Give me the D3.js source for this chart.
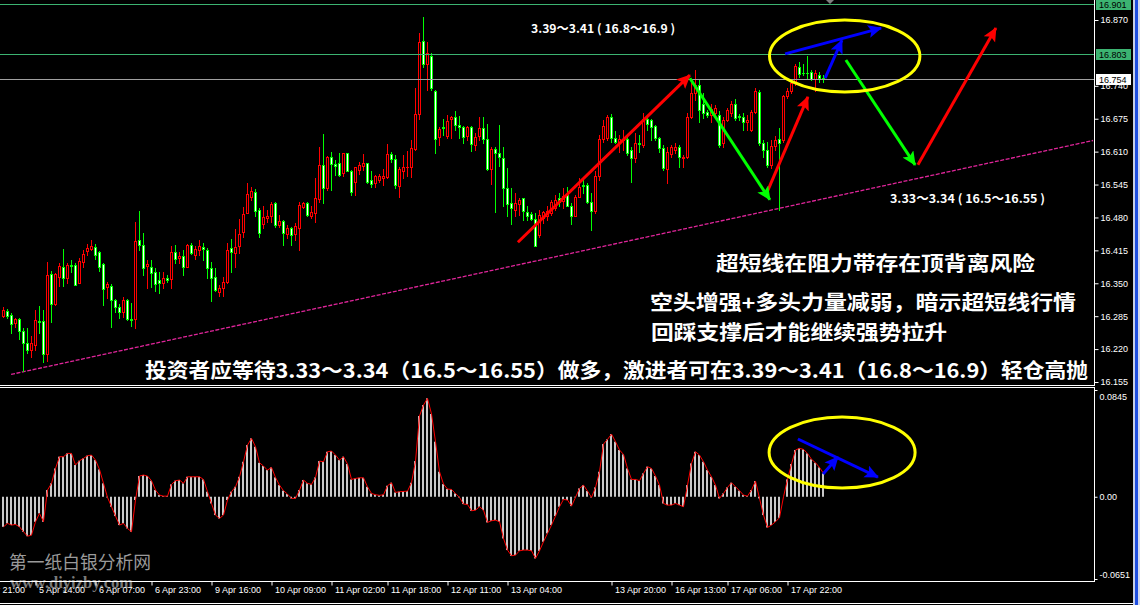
<!DOCTYPE html>
<html><head><meta charset="utf-8">
<script src="https://cdn.jsdelivr.net/npm/d3@7"></script>
<style>body{margin:0;background:#000;overflow:hidden}</style>
</head><body>
<svg id="c" width="1140" height="605"></svg>
<script>
// ---- DATA ----
// hourly candles [open, high, low, close]
const ohlc = [
[16.286,16.303,16.283,16.298],[16.296,16.299,16.282,16.286],[16.288,16.291,16.251,16.269],[16.271,16.282,16.263,16.280],
[16.280,16.282,16.240,16.255],[16.256,16.261,16.176,16.233],[16.233,16.261,16.212,16.219],[16.219,16.246,16.205,16.233],
[16.228,16.298,16.219,16.278],[16.276,16.305,16.251,16.273],[16.276,16.298,16.194,16.210],[16.210,16.393,16.196,16.367],
[16.369,16.375,16.273,16.309],[16.309,16.370,16.307,16.369],[16.362,16.390,16.344,16.384],[16.382,16.418,16.344,16.361],
[16.361,16.390,16.351,16.386],[16.386,16.396,16.373,16.385],[16.386,16.390,16.346,16.346],[16.350,16.400,16.350,16.394],
[16.393,16.416,16.383,16.407],[16.413,16.427,16.406,16.419],[16.417,16.436,16.416,16.424],[16.421,16.428,16.398,16.405],
[16.411,16.414,16.375,16.383],[16.388,16.390,16.307,16.338],[16.342,16.353,16.321,16.348],[16.345,16.348,16.263,16.317],
[16.317,16.319,16.294,16.304],[16.304,16.309,16.281,16.294],[16.294,16.322,16.284,16.317],[16.317,16.319,16.278,16.280],
[16.280,16.311,16.265,16.278],[16.279,16.472,16.261,16.434],[16.436,16.493,16.416,16.425],[16.426,16.450,16.367,16.380],
[16.385,16.396,16.340,16.388],[16.382,16.395,16.342,16.371],[16.372,16.380,16.334,16.349],[16.357,16.373,16.330,16.351],
[16.351,16.372,16.340,16.361],[16.361,16.367,16.353,16.357],[16.358,16.423,16.340,16.411],[16.411,16.425,16.391,16.398],
[16.399,16.411,16.390,16.404],[16.404,16.415,16.367,16.383],[16.383,16.427,16.382,16.425],[16.425,16.430,16.407,16.409],
[16.406,16.424,16.398,16.417],[16.415,16.436,16.406,16.424],[16.421,16.429,16.396,16.417],[16.416,16.419,16.360,16.380],
[16.380,16.393,16.314,16.360],[16.362,16.380,16.334,16.336],[16.332,16.347,16.324,16.340],[16.340,16.363,16.324,16.353],
[16.353,16.429,16.350,16.416],[16.419,16.437,16.373,16.411],[16.409,16.457,16.383,16.421],[16.423,16.477,16.409,16.447],
[16.452,16.500,16.441,16.487],[16.488,16.548,16.488,16.527],[16.520,16.541,16.515,16.532],[16.531,16.536,16.482,16.492],
[16.494,16.498,16.442,16.449],[16.467,16.502,16.459,16.481],[16.478,16.494,16.472,16.483],[16.482,16.510,16.472,16.507],
[16.508,16.511,16.462,16.465],[16.466,16.484,16.462,16.473],[16.473,16.475,16.426,16.449],[16.447,16.465,16.439,16.459],
[16.459,16.462,16.426,16.446],[16.447,16.469,16.436,16.463],[16.459,16.511,16.416,16.505],[16.501,16.511,16.498,16.509],
[16.509,16.511,16.482,16.484],[16.483,16.502,16.479,16.490],[16.488,16.557,16.472,16.519],[16.517,16.620,16.511,16.584],
[16.584,16.644,16.509,16.539],[16.538,16.602,16.534,16.599],[16.599,16.610,16.534,16.585],[16.586,16.594,16.564,16.582],
[16.587,16.607,16.561,16.564],[16.567,16.608,16.562,16.607],[16.607,16.608,16.571,16.572],[16.572,16.574,16.525,16.531],
[16.551,16.580,16.525,16.579],[16.573,16.590,16.566,16.584],[16.582,16.605,16.574,16.587],[16.587,16.588,16.549,16.551],
[16.553,16.571,16.541,16.547],[16.549,16.564,16.540,16.562],[16.554,16.566,16.551,16.562],[16.557,16.575,16.544,16.561],
[16.559,16.625,16.557,16.605],[16.605,16.610,16.590,16.595],[16.595,16.603,16.538,16.544],[16.543,16.580,16.521,16.576],
[16.572,16.603,16.557,16.579],[16.579,16.611,16.561,16.580],[16.579,16.633,16.559,16.617],[16.615,16.735,16.613,16.684],
[16.684,16.844,16.674,16.827],[16.829,16.875,16.778,16.784],[16.784,16.827,16.731,16.804],[16.799,16.804,16.732,16.735],
[16.729,16.732,16.607,16.634],[16.638,16.659,16.623,16.654],[16.659,16.674,16.643,16.657],[16.640,16.682,16.636,16.671],
[16.674,16.680,16.636,16.679],[16.679,16.690,16.653,16.663],[16.663,16.681,16.636,16.659],[16.659,16.661,16.627,16.638],
[16.640,16.661,16.633,16.658],[16.659,16.661,16.612,16.625],[16.623,16.646,16.613,16.638],[16.640,16.678,16.633,16.656],
[16.656,16.679,16.627,16.634],[16.634,16.664,16.574,16.575],[16.575,16.620,16.546,16.615],[16.615,16.620,16.490,16.607],
[16.607,16.663,16.581,16.600],[16.597,16.620,16.502,16.538],[16.538,16.577,16.482,16.506],[16.508,16.538,16.467,16.498],
[16.495,16.529,16.483,16.508],[16.506,16.519,16.485,16.515],[16.518,16.519,16.475,16.493],[16.490,16.502,16.475,16.482],
[16.486,16.490,16.475,16.477],[16.477,16.488,16.423,16.423],[16.446,16.495,16.442,16.484],[16.478,16.492,16.469,16.490],
[16.482,16.502,16.475,16.492],[16.488,16.515,16.485,16.511],[16.498,16.525,16.495,16.515],[16.518,16.528,16.502,16.511],
[16.513,16.538,16.498,16.523],[16.525,16.541,16.502,16.502],[16.502,16.508,16.467,16.482],[16.482,16.525,16.482,16.521],
[16.521,16.557,16.521,16.541],[16.544,16.553,16.528,16.542],[16.544,16.548,16.508,16.511],[16.511,16.528,16.455,16.492],
[16.492,16.571,16.488,16.561],[16.561,16.643,16.554,16.635],[16.635,16.673,16.630,16.661],[16.636,16.682,16.633,16.679],
[16.679,16.684,16.630,16.636],[16.636,16.650,16.627,16.630],[16.628,16.643,16.610,16.634],[16.633,16.653,16.613,16.634],
[16.634,16.643,16.604,16.607],[16.613,16.620,16.551,16.597],[16.597,16.646,16.590,16.627],[16.627,16.643,16.610,16.625],
[16.623,16.686,16.620,16.674],[16.674,16.679,16.653,16.665],[16.673,16.674,16.633,16.659],[16.661,16.663,16.633,16.636],
[16.636,16.638,16.610,16.617],[16.617,16.623,16.574,16.577],[16.575,16.619,16.548,16.610],[16.606,16.623,16.600,16.619],
[16.613,16.628,16.607,16.619],[16.619,16.623,16.580,16.600],[16.597,16.604,16.580,16.600],[16.600,16.686,16.597,16.679],
[16.679,16.745,16.676,16.725],[16.725,16.771,16.712,16.742],[16.742,16.752,16.669,16.692],[16.705,16.725,16.676,16.686],
[16.688,16.692,16.679,16.682],[16.682,16.705,16.669,16.695],[16.686,16.702,16.679,16.696],[16.682,16.690,16.620,16.623],
[16.627,16.679,16.620,16.673],[16.673,16.697,16.670,16.692],[16.686,16.711,16.681,16.705],[16.705,16.713,16.672,16.676],
[16.680,16.685,16.672,16.678],[16.679,16.686,16.653,16.669],[16.669,16.682,16.653,16.673],[16.653,16.692,16.650,16.689],
[16.689,16.735,16.686,16.729],[16.727,16.732,16.623,16.627],[16.627,16.633,16.600,16.613],[16.613,16.630,16.580,16.584],
[16.584,16.633,16.577,16.621],[16.621,16.640,16.613,16.632],[16.635,16.656,16.495,16.628],[16.633,16.722,16.630,16.720],
[16.720,16.735,16.715,16.730],[16.730,16.752,16.725,16.746],[16.746,16.784,16.742,16.779],[16.778,16.788,16.758,16.763],
[16.766,16.784,16.761,16.765],[16.766,16.799,16.753,16.765],[16.767,16.771,16.752,16.753],[16.753,16.771,16.730,16.765],
[16.762,16.768,16.748,16.755],[16.756,16.761,16.748,16.754]
];
// oscillator histogram values
const osc = [
-0.0238,-0.0211,-0.0224,-0.0219,-0.0238,-0.0277,-0.0312,-0.0304,-0.0198,-0.0132,-0.0198,0.0053,0.0106,0.0224,0.0317,0.0317,
0.0343,0.0343,0.0251,0.0285,0.0304,0.0325,0.0330,0.0290,0.0216,0.0106,-0.0005,-0.0079,-0.0153,-0.0224,-0.0211,-0.0251,
-0.0277,-0.0026,0.0164,0.0172,0.0164,0.0127,0.0053,0.0013,0.0005,0.0005,0.0098,0.0127,0.0132,0.0106,0.0158,0.0158,
0.0158,0.0158,0.0137,0.0040,-0.0053,-0.0145,-0.0172,-0.0145,-0.0026,0.0040,0.0079,0.0158,0.0277,0.0409,0.0462,0.0396,
0.0269,0.0243,0.0211,0.0232,0.0153,0.0092,0.0048,0.0021,-0.0013,-0.0013,0.0053,0.0132,0.0106,0.0098,0.0153,0.0282,
0.0277,0.0356,0.0362,0.0330,0.0290,0.0317,0.0259,0.0137,0.0145,0.0150,0.0150,0.0079,0.0026,0.0016,0.0011,0.0016,
0.0087,0.0111,0.0034,0.0040,0.0042,0.0045,0.0111,0.0282,0.0639,0.0726,0.0779,0.0655,0.0436,0.0198,0.0100,0.0061,
0.0058,0.0026,-0.0005,-0.0058,-0.0061,-0.0111,-0.0106,-0.0079,-0.0106,-0.0203,-0.0190,-0.0185,-0.0198,-0.0330,-0.0422,-0.0467,
-0.0462,-0.0428,-0.0422,-0.0422,-0.0428,-0.0488,-0.0428,-0.0356,-0.0290,-0.0224,-0.0153,-0.0079,-0.0021,-0.0026,-0.0074,-0.0005,
0.0066,0.0092,0.0045,-0.0005,0.0074,0.0198,0.0417,0.0454,0.0496,0.0436,0.0370,0.0335,0.0224,0.0137,0.0137,0.0127,
0.0185,0.0238,0.0224,0.0164,0.0092,-0.0053,-0.0066,-0.0066,-0.0053,-0.0066,-0.0079,0.0092,0.0264,0.0356,0.0330,0.0277,
0.0211,0.0158,0.0092,-0.0013,0.0026,0.0074,0.0111,0.0079,0.0048,0.0013,0.0005,0.0053,0.0124,-0.0013,-0.0145,-0.0243,
-0.0224,-0.0198,-0.0166,0.0000,0.0137,0.0259,0.0370,0.0383,0.0375,0.0343,0.0296,0.0269,0.0232,0.0185
];
const priceTicks = [16.870,16.740,16.675,16.610,16.545,16.480,16.415,16.350,16.285,16.220,16.155];
const oscTicks = [0.0845,0.0,-0.0651];
const oscTickText = ["0.0845","0.00","-0.0651"];
const timeIdx = [-7,8,23,37,52,67,82,96,111,126,152,167,181,196];
const timeLabels = ["4 Apr 21:00","5 Apr 14:00","6 Apr 07:00","6 Apr 23:00","9 Apr 16:00","10 Apr 09:00","11 Apr 02:00",
  "11 Apr 18:00","12 Apr 11:00","13 Apr 04:00","13 Apr 20:00","16 Apr 13:00","17 Apr 06:00","17 Apr 22:00"];
const levelPrices = [16.901,16.803];
const bidPrice = 16.754;
const supportLine = [[1.9,16.170],[272.4,16.632]];
const redArrows = [[[128.6,16.431],[171.6,16.761]],[[190.9,16.530],[201.1,16.718]],[[228.6,16.584],[248.1,16.854]]];
const greenArrows = [[[171.6,16.755],[191.6,16.515]],[[210.6,16.791],[227.9,16.584]]];
const blueArrows = [[[195.4,16.803],[219.4,16.854]],[[205.4,16.755],[209.6,16.830]]];
const oscBlueArrows = [[[198.6,0.0457],[218.6,0.0156]],[[204.9,0.0180],[208.6,0.0315]]];
const priceEllipse = [[191.5,16.870],[229.1,16.728]];
const oscEllipse = [[191.4,0.0631],[227.9,0.0069]];

// ---- SCALES ----
const axisX = 1094;
const x = d3.scaleLinear().domain([0,1]).range([3.5,7.5]);
const yP = d3.scaleLinear().domain([16.155,16.870]).range([382,20]);
const yO = d3.scaleLinear().domain([-0.0651,0.0845]).range([579,390]);

const svg = d3.select("#c");
svg.append("rect").attr("width",1140).attr("height",605).attr("fill","#000");
const defs = svg.append("defs");
defs.append("clipPath").attr("id","cm").append("rect").attr("x",0).attr("y",0).attr("width",axisX).attr("height",385);
defs.append("clipPath").attr("id","co").append("rect").attr("x",0).attr("y",389).attr("width",axisX).attr("height",192);
[["ar","#ff0000"],["ag","#00ff00"],["ab","#0000ff"]].forEach(([id,col])=>{
  defs.append("marker").attr("id",id).attr("markerUnits","userSpaceOnUse")
    .attr("markerWidth",16).attr("markerHeight",14).attr("refX",13).attr("refY",6.5).attr("orient","auto")
    .append("path").attr("d","M0,0 L14,6.5 L0,13 L3,6.5 Z").attr("fill",col);
});

const FONT = "'Liberation Sans', Arial, sans-serif";
const CJK = "'Noto Sans CJK SC', sans-serif";

// watermark
svg.append("text").attr("x",9).attr("y",561).attr("dominant-baseline","central")
  .attr("font-family",CJK).attr("font-size",18).attr("fill","#9a9a9a")
  .attr("textLength",142).attr("lengthAdjust","spacingAndGlyphs").text("第一纸白银分析网");
svg.append("text").attr("x",10).attr("y",588)
  .attr("font-family","'Liberation Serif', serif").attr("font-size",16).attr("font-weight","bold").attr("fill","#7a7a7a")
  .attr("textLength",123).attr("lengthAdjust","spacingAndGlyphs").text("www.diyizby.com");

// ---- MAIN PANE ----
const main = svg.append("g").attr("clip-path","url(#cm)");
// support trend line
main.append("line")
  .attr("x1",x(supportLine[0][0])).attr("y1",yP(supportLine[0][1]))
  .attr("x2",x(supportLine[1][0])).attr("y2",yP(supportLine[1][1]))
  .attr("stroke","#e0259a").attr("stroke-width",1.3).attr("stroke-dasharray","4,1.5");

const cg = main.append("g");
ohlc.forEach((d,i)=>{
  const [o,h,l,c] = d;
  const up = c >= o;
  const col = up ? "#ff0000" : "#00ff00";
  const cx = x(i);
  cg.append("line").attr("x1",cx).attr("x2",cx)
    .attr("y1",Math.round(yP(h))).attr("y2",Math.round(yP(l))+1)
    .attr("stroke",col).attr("stroke-width",1);
  const t = Math.round(yP(Math.max(o,c))), b = Math.round(yP(Math.min(o,c)));
  const hh = Math.max(0,b-t);
  cg.append("rect").attr("x",cx-1.5).attr("y",t).attr("width",3).attr("height",hh+1).attr("fill",col);
  if (hh >= 2) cg.append("rect").attr("x",cx-0.5).attr("y",t+1).attr("width",1).attr("height",hh-1)
    .attr("fill", up ? "#000" : "#fff");
});

// horizontal levels
levelPrices.forEach(p=>{
  const yy = Math.round(yP(p))+0.5;
  main.append("line").attr("x1",0).attr("x2",axisX).attr("y1",yy).attr("y2",yy).attr("stroke","#3cb371").attr("stroke-width",1);
});
{
  const yy = Math.round(yP(bidPrice))+0.5;
  main.append("line").attr("x1",0).attr("x2",axisX).attr("y1",yy).attr("y2",yy).attr("stroke","#a0a0a0").attr("stroke-width",1);
}

// arrows
function drawArrows(g, list, col, mk, ys, w){
  list.forEach(a=>{
    g.append("line").attr("x1",x(a[0][0])).attr("y1",ys(a[0][1]))
      .attr("x2",x(a[1][0])).attr("y2",ys(a[1][1]))
      .attr("stroke",col).attr("stroke-width",w).attr("marker-end",`url(#${mk})`);
  });
}
drawArrows(main, redArrows, "#ff0000", "ar", yP, 3);
drawArrows(main, greenArrows, "#00ff00", "ag", yP, 3);
drawArrows(main, blueArrows, "#0000ff", "ab", yP, 3);

function drawEllipse(g, bb, ys){
  const x0=x(bb[0][0]), x1=x(bb[1][0]), y0=ys(bb[0][1]), y1=ys(bb[1][1]);
  g.append("ellipse").attr("cx",(x0+x1)/2).attr("cy",(y0+y1)/2).attr("rx",(x1-x0)/2).attr("ry",(y1-y0)/2)
    .attr("fill","none").attr("stroke","#ffff00").attr("stroke-width",3);
}
drawEllipse(main, priceEllipse, yP);

// texts
function addText(str, tx, ty, size, len, weight){
  svg.append("text").attr("x",tx).attr("y",ty).attr("dominant-baseline","central")
    .attr("font-family",CJK).attr("font-size",size).attr("font-weight",weight).attr("fill","#fff")
    .attr("textLength",len).attr("lengthAdjust","spacingAndGlyphs").attr("xml:space","preserve").text(str);
}
addText("3.39～3.41 ( 16.8～16.9 )", 531, 27, 12, 144, "bold");
addText("3.33～3.34 ( 16.5～16.55 )", 890, 197, 12, 155, "bold");
addText("超短线在阻力带存在顶背离风险", 716, 262, 20, 319, "bold");
addText("空头增强+多头力量减弱，暗示超短线行情", 650, 301.5, 20, 426, "bold");
addText("回踩支撑后才能继续强势拉升", 651, 331.5, 20, 296, "bold");
addText("投资者应等待3.33～3.34（16.5～16.55）做多，激进者可在3.39～3.41（16.8～16.9）轻仓高抛", 145, 369, 20, 943, "bold");

// shift marker
svg.append("path").attr("d","M826,0 L834,0 L830,4 Z").attr("fill","#808080");

// ---- OSC PANE ----
const og = svg.append("g").attr("clip-path","url(#co)");
og.selectAll("rect.b").data(osc).join("rect").attr("class","b")
  .attr("x",(d,i)=>x(i)-1.5).attr("width",2)
  .attr("y",d=>Math.min(yO(d),yO(0))).attr("height",d=>Math.abs(yO(d)-yO(0)))
  .attr("fill","#c8c8c8");
og.append("path").datum(osc)
  .attr("d", d3.line().x((d,i)=>x(i)).y(d=>yO(d)))
  .attr("fill","none").attr("stroke","#ff0000").attr("stroke-width",1);
drawArrows(og, oscBlueArrows, "#0000ff", "ab", yO, 3);
drawEllipse(og, oscEllipse, yO);

// ---- FRAME & AXES ----
const white = "#ffffff";
svg.append("line").attr("x1",axisX+0.5).attr("x2",axisX+0.5).attr("y1",0).attr("y2",386).attr("stroke",white);
svg.append("line").attr("x1",axisX+0.5).attr("x2",axisX+0.5).attr("y1",388).attr("y2",582).attr("stroke",white);
[385.5,387.5,581.5].forEach(yy=>svg.append("line").attr("x1",0).attr("x2",axisX+1).attr("y1",yy).attr("y2",yy).attr("stroke",white));
svg.append("line").attr("x1",0).attr("x2",1133).attr("y1",603.5).attr("y2",603.5).attr("stroke",white);

const pa = svg.append("g").attr("transform",`translate(${axisX+0.5},0)`)
  .call(d3.axisRight(yP).tickValues(priceTicks).tickSize(4).tickPadding(2).tickFormat(d3.format(".3f")));
pa.select(".domain").remove();
pa.selectAll("line").attr("stroke",white);
pa.selectAll("text").attr("fill",white).attr("font-family",FONT).attr("font-size",9);

// price boxes
function priceBox(p, bg, fg){
  const yc = yP(p);
  svg.append("rect").attr("x",1096).attr("y",Math.round(yc)-5).attr("width",35).attr("height",11).attr("fill",bg);
  svg.append("text").attr("x",1099).attr("y",Math.round(yc)+0.5).attr("dominant-baseline","central")
    .attr("font-family",FONT).attr("font-size",9).attr("fill",fg).text(d3.format(".3f")(p));
}
levelPrices.forEach(p=>priceBox(p,"#3cb371","#000"));
priceBox(bidPrice,"#ffffff","#000");

// osc axis
const oa = svg.append("g").attr("transform",`translate(${axisX+0.5},0)`)
  .call(d3.axisRight(yO).tickValues(oscTicks).tickSize(3).tickPadding(2).tickFormat((d,i)=>oscTickText[i]));
oa.select(".domain").remove();
oa.selectAll("line").attr("stroke",white);
oa.selectAll("text").attr("fill",white).attr("font-family",FONT).attr("font-size",9)
  .attr("dy",(d,i)=>["1.0em","0.32em","-0.2em"][i]);

// time axis
const ta = svg.append("g").attr("transform","translate(0,581.5)")
  .call(d3.axisBottom(x).tickValues(timeIdx).tickSize(4).tickFormat((d,i)=>timeLabels[i]));
ta.select(".domain").remove();
ta.selectAll("line").attr("stroke",white);
ta.selectAll("text").attr("fill",white).attr("font-family",FONT).attr("font-size",9)
  .attr("text-anchor","start").attr("x",3).attr("y",5);

// right window strip
svg.append("rect").attr("x",1133).attr("y",0).attr("width",2).attr("height",605).attr("fill","#c8d0e8");
svg.append("rect").attr("x",1135).attr("y",0).attr("width",3).attr("height",605).attr("fill","#1f4fe0");
svg.append("rect").attr("x",1138).attr("y",0).attr("width",2).attr("height",605).attr("fill","#d0d8f0");
</script>
</body></html>
